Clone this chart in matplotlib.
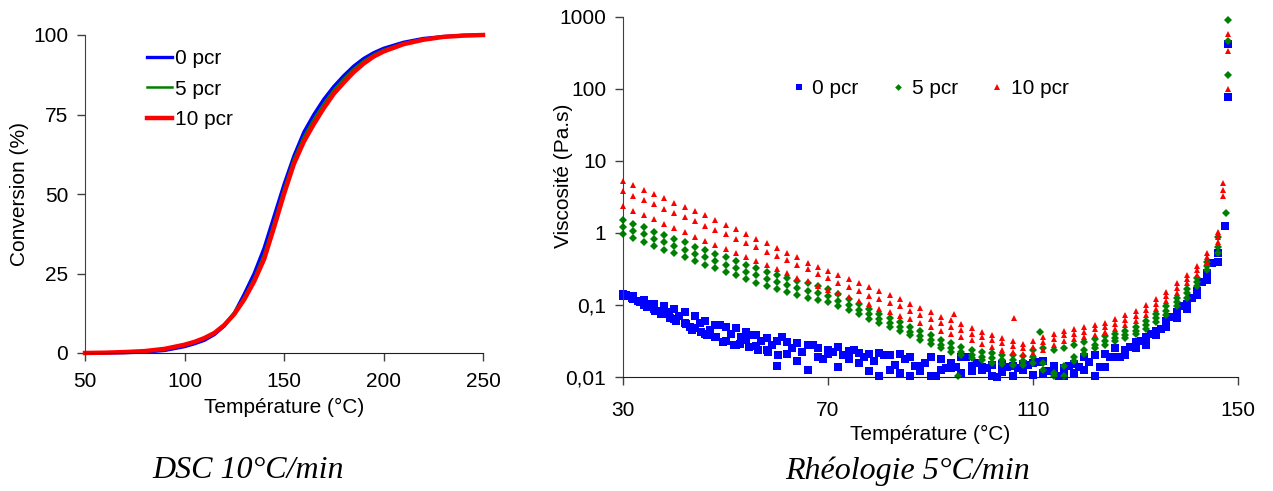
import matplotlib.pyplot as plt
import numpy as np

plt.rcParams['font.family'] = ['Liberation Sans', 'DejaVu Sans']

# ---- DSC 10 °C/min : conversion (%) vs temperature ----
dsc_temp = [50, 60, 70, 80, 90, 100, 105, 110, 115, 120, 125, 130, 135, 140, 145, 150,
            155, 160, 165, 170, 175, 180, 185, 190, 195, 200, 210, 220, 230, 240, 250]
conv_0 = [0, 0, 0.1, 0.3, 0.8, 2.0, 2.9, 4.0, 5.8, 8.5, 12.5, 18.5, 25, 33, 43, 53,
          62, 69.5, 75, 79.8, 83.8, 87.2, 90.2, 92.6, 94.4, 95.8, 97.7, 98.9, 99.5, 99.9, 100]
conv_5 = [0, 0.1, 0.3, 0.6, 1.2, 2.5, 3.4, 4.6, 6.3, 9, 12.8, 17.5, 23.5, 31, 41, 51.5,
          61, 68, 73.5, 78.3, 82.7, 86.2, 89.3, 91.8, 93.8, 95.3, 97.4, 98.7, 99.4, 99.8, 100]
conv_10 = [0, 0.1, 0.3, 0.6, 1.3, 2.6, 3.5, 4.7, 6.3, 8.8, 12.2, 16.8, 22.5, 29.5, 39.5, 50,
           59.5, 66.5, 72, 77, 81.5, 85, 88.3, 91, 93.2, 94.8, 97.1, 98.5, 99.4, 99.8, 100]

# ---- Rheology 5 °C/min : viscosity, stored as log10(Pa.s) ----
t_low = [30, 32, 34, 36, 38, 40, 42, 44, 46, 48, 50, 52, 54, 56, 58, 60, 62, 64, 66, 68,
         70, 72, 74, 76, 78, 80, 82, 84, 86, 88, 90, 92, 94, 96, 98, 100, 102, 104, 106, 108]
t_high = [110, 112, 114, 116, 118, 120, 122, 124, 126, 128, 130, 132, 134, 136, 138, 140,
          142, 144, 146]
t_odd = [31, 33, 35, 37, 39, 41, 43, 45, 47, 49, 51, 53, 55, 57, 59, 61, 63, 65, 67, 69,
         71, 73, 75, 77, 79, 81, 83, 85]
t_odd_high = [87, 89, 91, 93, 95, 97, 99, 101, 103, 105, 107, 109, 111, 113, 115, 117, 119,
              121, 123, 125, 127, 129, 131, 133, 135, 137, 139, 141, 143, 145]
t_early = [30.6, 31.8, 33.4, 34.6, 36.2, 37.4, 39.2, 40.4, 42.2, 43.4, 45.2, 46.4, 48.2,
           49.6, 51.6, 52.8, 54.6, 56.4, 58.2, 60.2]

# 0 pcr
p0_a_low = [-0.85, -0.88, -0.93, -0.98, -1.02, -1.05, -1.10, -1.15, -1.22, -1.28, -1.30, -1.32,
            -1.38, -1.42, -1.46, -1.50, -1.52, -1.53, -1.56, -1.60, -1.62, -1.58, -1.64, -1.66,
            -1.68, -1.66, -1.70, -1.68, -1.72, -1.85, -1.72, -1.75, -1.80, -1.72, -1.85, -1.86,
            -1.84, -1.82, -1.85, -1.82]
p0_a_high = [-1.80, -1.78, -1.85, -1.88, -1.82, -1.72, -1.70, -1.68, -1.60, -1.62, -1.52, -1.44,
             -1.36, -1.22, -1.10, -0.98, -0.80, -0.55, -0.28]
p0_b_low = [-0.88, -0.92, -1.00, -1.05, -1.12, -1.20, -1.25, -1.32, -1.40, -1.44, -1.50, -1.55,
            -1.48, -1.57, -1.62, -1.85, -1.68, -1.78, -1.90, -1.72, -1.68, -1.86, -1.75, -1.80,
            -1.92, -1.98, -1.90, -1.95, -1.99, -1.92, -1.99, -1.90, -1.88, -1.95, -1.92, -1.90,
            -1.98, -1.93, -1.99, -1.90]
p0_b_high = [-1.97, -1.95, -1.90, -1.99, -1.95, -1.90, -1.99, -1.86, -1.72, -1.70, -1.60, -1.55,
             -1.42, -1.30, -1.18, -1.05, -0.86, -0.65, -0.40]
p0_c_odd = [-0.87, -0.95, -0.98, -1.08, -1.10, -1.15, -1.30, -1.25, -1.35, -1.28, -1.40, -1.45,
            -1.42, -1.50, -1.55, -1.45, -1.60, -1.65, -1.55, -1.75, -1.65, -1.70, -1.62, -1.72,
            -1.78, -1.70, -1.83, -1.75]
p0_c_odd_high = [-1.85, -1.80, -1.99, -1.88, -1.86, -1.72, -1.80, -1.88, -2.0, -1.86, -1.87,
                 -1.84, -1.79, -1.92, -1.99, -1.85, -1.86, -1.79, -1.86, -1.72, -1.72, -1.58,
                 -1.50, -1.40, -1.33, -1.16, -1.02, -0.90, -0.68, -0.42]
p0_d_early = [-0.86, -0.90, -0.96, -1.03, -1.08, -1.13, -1.18, -1.22, -1.26, -1.35, -1.38,
              -1.42, -1.45, -1.52, -1.55, -1.54, -1.58, -1.62, -1.65, -1.70]
p0_extra_t = [147.5, 148, 148]
p0_extra = [0.10, 2.62, 1.89]

# 5 pcr
p5_a_low = [0.18, 0.13, 0.08, 0.02, -0.03, -0.08, -0.13, -0.19, -0.24, -0.29, -0.34, -0.39,
            -0.44, -0.49, -0.54, -0.58, -0.62, -0.66, -0.70, -0.74, -0.78, -0.85, -0.92, -0.99,
            -1.06, -1.12, -1.18, -1.24, -1.30, -1.36, -1.42, -1.48, -1.53, -1.58, -1.62, -1.65,
            -1.67, -1.69, -1.70, -1.71]
p5_b_low = [0.08, 0.03, -0.02, -0.08, -0.13, -0.18, -0.23, -0.29, -0.34, -0.39, -0.44, -0.49,
            -0.54, -0.59, -0.64, -0.68, -0.72, -0.76, -0.80, -0.84, -0.88, -0.94, -1.00, -1.07,
            -1.13, -1.19, -1.25, -1.31, -1.37, -1.43, -1.49, -1.55, -1.60, -1.65, -1.69, -1.72,
            -1.74, -1.76, -1.77, -1.78]
p5_c_low = [-0.02, -0.07, -0.12, -0.18, -0.23, -0.28, -0.33, -0.39, -0.44, -0.49, -0.54, -0.59,
            -0.64, -0.69, -0.74, -0.78, -0.82, -0.86, -0.90, -0.93, -0.96, -1.01, -1.07, -1.13,
            -1.19, -1.25, -1.30, -1.36, -1.42, -1.48, -1.54, -1.60, -1.65, -1.70, -1.74, -1.77,
            -1.80, -1.82, -1.83, -1.84]
p5_a_high = [-1.62, -1.60, -1.62, -1.60, -1.56, -1.52, -1.47, -1.43, -1.40, -1.36, -1.30, -1.22,
             -1.12, -1.02, -0.90, -0.78, -0.62, -0.40, -0.05]
p5_b_high = [-1.72, -1.80, -1.95, -1.85, -1.72, -1.62, -1.55, -1.50, -1.46, -1.42, -1.36, -1.28,
             -1.18, -1.08, -0.96, -0.84, -0.68, -0.46, -0.20]
p5_c_high = [-1.80, -1.90, -1.99, -1.98, -1.78, -1.68, -1.60, -1.55, -1.50, -1.46, -1.40, -1.33,
             -1.24, -1.14, -1.02, -0.90, -0.74, -0.52, -0.28]
p5_extra_t = [95.4, 111.4, 147.6, 148, 148, 148]
p5_extra = [-1.99, -1.37, 0.28, 2.96, 2.67, 2.20]

# 10 pcr
p10_a_low = [0.72, 0.66, 0.60, 0.54, 0.48, 0.42, 0.36, 0.30, 0.25, 0.18, 0.11, 0.05, -0.01,
             -0.08, -0.14, -0.21, -0.28, -0.34, -0.41, -0.47, -0.53, -0.58, -0.64, -0.69, -0.75,
             -0.80, -0.86, -0.92, -0.98, -1.04, -1.10, -1.16, -1.21, -1.27, -1.32, -1.37, -1.42,
             -1.46, -1.50, -1.54]
p10_b_low = [0.58, 0.52, 0.46, 0.40, 0.34, 0.28, 0.22, 0.16, 0.10, 0.04, -0.02, -0.08, -0.14,
             -0.20, -0.26, -0.32, -0.38, -0.44, -0.50, -0.57, -0.63, -0.69, -0.75, -0.81, -0.87,
             -0.92, -0.97, -1.02, -1.08, -1.14, -1.20, -1.25, -1.30, -1.35, -1.40, -1.45, -1.49,
             -1.53, -1.57, -1.60]
p10_c_low = [0.37, 0.31, 0.25, 0.19, 0.13, 0.07, 0.01, -0.05, -0.11, -0.16, -0.22, -0.28, -0.33,
             -0.39, -0.45, -0.50, -0.56, -0.62, -0.67, -0.73, -0.79, -0.84, -0.89, -0.94, -0.99,
             -1.05, -1.10, -1.15, -1.20, -1.25, -1.31, -1.36, -1.40, -1.45, -1.49, -1.54, -1.58,
             -1.62, -1.65, -1.68]
p10_a_high = [-1.50, -1.45, -1.40, -1.36, -1.33, -1.30, -1.28, -1.25, -1.20, -1.14, -1.08, -1.00,
              -0.92, -0.82, -0.70, -0.58, -0.46, -0.28, 0.02]
p10_b_high = [-1.58, -1.52, -1.47, -1.42, -1.40, -1.37, -1.34, -1.31, -1.27, -1.21, -1.15, -1.07,
              -0.98, -0.88, -0.77, -0.64, -0.52, -0.33, -0.05]
p10_c_high = [-1.66, -1.62, -1.55, -1.50, -1.47, -1.44, -1.41, -1.37, -1.33, -1.28, -1.22, -1.14,
              -1.05, -0.95, -0.84, -0.70, -0.58, -0.40, -0.12]
p10_extra_t = [94.5, 106.2, 147, 147, 147, 148, 148, 148]
p10_extra = [-1.12, -1.18, 0.69, 0.60, 0.52, 2.77, 2.53, 2.00]

BLUE, GREEN, RED = '#0000ff', '#008000', '#ff0000'
FS = 15

fig = plt.figure(figsize=(12.73, 4.91), dpi=100)
ax1 = fig.add_axes([85 / 1273, 1 - 353 / 491, 398 / 1273, 318 / 491])
ax2 = fig.add_axes([623 / 1273, 1 - 377 / 491, 615 / 1273, 360 / 491])

# left panel
ax1.plot(dsc_temp, conv_0, color=BLUE, lw=2.4, label='0 pcr', clip_on=False)
ax1.plot(dsc_temp, conv_5, color=GREEN, lw=1.8, label='5 pcr', clip_on=False)
ax1.plot(dsc_temp, conv_10, color=RED, lw=3.2, label='10 pcr', clip_on=False)
ax1.set_xlim(50, 250)
ax1.set_ylim(0, 100)
ax1.set_xticks([50, 100, 150, 200, 250])
ax1.set_yticks([0, 25, 50, 75, 100])
ax1.set_xlabel('Température (°C)', fontsize=FS, labelpad=5)
ax1.set_ylabel('Conversion (%)', fontsize=FS)
ax1.yaxis.set_label_coords((29 - 85) / 398, 0.5)
ax1.legend(loc='upper left', bbox_to_anchor=(0.155, 0.955), frameon=False, fontsize=FS,
           handlelength=1.2, handletextpad=0.15, labelspacing=0.55, borderpad=0, borderaxespad=0)

# right panel
def lg(vals):
    return 10 ** np.asarray(vals)

series = [
    ('0 pcr', BLUE, 's', 5.5, [(t_low, p0_a_low), (t_high, p0_a_high), (t_low, p0_b_low),
                               (t_high, p0_b_high), (t_odd, p0_c_odd),
                               (t_odd_high, p0_c_odd_high), (t_early, p0_d_early),
                               (p0_extra_t, p0_extra)]),
    ('5 pcr', GREEN, 'D', 4.0, [(t_low, p5_a_low), (t_low, p5_b_low), (t_low, p5_c_low),
                                (t_high, p5_a_high), (t_high, p5_b_high), (t_high, p5_c_high),
                                (p5_extra_t, p5_extra)]),
    ('10 pcr', RED, '^', 4.8, [(t_low, p10_a_low), (t_low, p10_b_low), (t_low, p10_c_low),
                               (t_high, p10_a_high), (t_high, p10_b_high), (t_high, p10_c_high),
                               (p10_extra_t, p10_extra)]),
]
for label, color, marker, ms, parts in series:
    xs = np.concatenate([np.asarray(t, float) for t, _ in parts])
    ys = np.concatenate([lg(v) for _, v in parts])
    ax2.plot(xs, ys, ls='none', marker=marker, ms=ms, color=color, mew=0, label=label, clip_on=False)

ax2.set_yscale('log')
ax2.set_xlim(30, 150)
ax2.set_ylim(0.01, 1000)
ax2.set_xticks([30, 70, 110, 150])
ax2.set_yticks([0.01, 0.1, 1, 10, 100, 1000])
ax2.set_yticklabels(['0,01', '0,1', '1', '10', '100', '1000'])
ax2.minorticks_off()
ax2.set_xlabel('Température (°C)', fontsize=FS, labelpad=4)
ax2.set_ylabel('Viscosité (Pa.s)', fontsize=FS)
ax2.yaxis.set_label_coords((573 - 623) / 615, 1 - (176 - 17) / 360)
ax2.legend(loc='center', bbox_to_anchor=(0.5, 0.8), ncol=3, frameon=False, fontsize=FS,
           handlelength=0.6, handletextpad=0.35, columnspacing=1.6, markerscale=0.85,
           borderpad=0, borderaxespad=0)

for ax in (ax1, ax2):
    for side in ('top', 'right'):
        ax.spines[side].set_visible(False)
    ax.spines['left'].set_color('#404040')
    ax.spines['bottom'].set_color('#202020')
    ax.tick_params(axis='both', labelsize=FS, length=6, width=1, color='#404040')
    ax.tick_params(axis='y', pad=6)
ax1.tick_params(axis='x', pad=8)
ax2.tick_params(axis='x', pad=11)

fig.text(248 / 1273, 1 - 471 / 491, 'DSC 10°C/min', fontsize=23, style='italic',
         family=['Liberation Serif', 'DejaVu Serif'], ha='center', va='center')
fig.text(908 / 1273, 1 - 471 / 491, 'Rhéologie 5°C/min', fontsize=23, style='italic',
         family=['Liberation Serif', 'DejaVu Serif'], ha='center', va='center')

fig.savefig('out.png', dpi=100)
